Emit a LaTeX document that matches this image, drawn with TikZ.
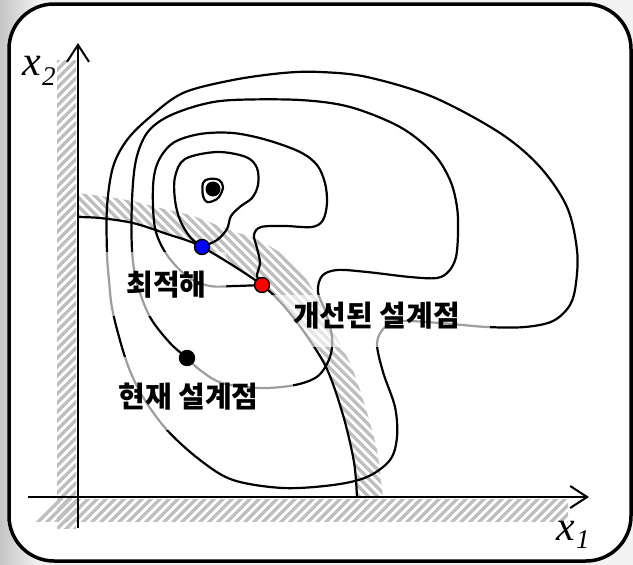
\documentclass[tikz,border=0pt]{standalone}
\usepackage{fontspec}
\IfFontExistsTF{Noto Sans CJK KR Black}
  {\newfontfamily\krfont{Noto Sans CJK KR Black}}
  {\IfFontExistsTF{Noto Sans CJK KR Bold}
    {\newfontfamily\krfont{Noto Sans CJK KR Bold}[FakeBold=1.5]}
    {\newfontfamily\krfont{Noto Sans CJK KR}[FakeBold=5]}}
\newfontfamily\tmsfont{Liberation Serif}
\usetikzlibrary{arrows.meta}
\begin{document}
\begin{tikzpicture}[x=1pt,y=-1pt,
  contour/.style={draw=black, line width=2.2pt, line join=round},
  stripe/.style={draw=gray!50, line width=3.3pt},
  labelbg/.style={fill=white, fill opacity=0.62},
  axisline/.style={draw=black, line width=2pt, -{Straight Barb[length=17pt,width=22pt]}},
  krlabel/.style={font=\krfont\fontsize{29}{29}\selectfont, inner sep=0pt},
  varx/.style={font=\tmsfont\itshape\fontsize{42}{42}\selectfont, inner sep=0pt, anchor=base west},
  varsub/.style={font=\tmsfont\itshape\fontsize{27}{27}\selectfont, inner sep=0pt, anchor=base west},
  ptdot/.style={circle, draw=black, line width=1.4pt, minimum size=15pt, inner sep=0pt}]
\useasboundingbox (0,0) rectangle (633,565);
% background outside the frame
\fill[gray!10] (0,0) rectangle (633,565);
\shade[left color=gray!45, right color=gray!10] (0,0) rectangle (40,565);
% frame
\draw[line width=3.5pt, fill=white, rounded corners=45pt] (9,4) rectangle (631,561);
% hatched bands
\begin{scope}
  \clip (57,60) rectangle (76,528);
  \foreach \i in {-500,-491,...,200} \draw[stripe] (\i,600) -- ++(700,-700);
\end{scope}
\begin{scope}
  \clip (33,499) rectangle (568,521);
  \foreach \i in {0,9,...,650} \draw[stripe] (\i,560) -- ++(100,-100);
\end{scope}
\begin{scope}
  \clip plot[smooth,tension=0.5] coordinates {(78,217) (100,218) (133,223) (167,234) (202,247) (262,285) (293,317) (325,365) (343,415) (354,462) (357,497)}
  -- plot[smooth,tension=0.5] coordinates {(383,497) (381,480) (377,450) (370,423) (360,390) (350,363) (333,330) (313,290) (293,262) (260,241) (227,229) (193,216) (160,208) (127,200) (78,193)} -- cycle;
  \foreach \i in {0,9,...,800} \draw[stripe] (\i,560) -- ++(-400,-400) -- ++(800,-800);
\end{scope}
% contour 5 (outermost)
\draw[contour] plot[smooth cycle,tension=0.55] coordinates {(107,253) (107,207) (113,167) (127,140) (150,117) (183,93) (233,80) (283,73) (320,72) (367,77) (433,97) (500,133) (540,167) (567,207) (577,250) (576,283) (570,305) (553,321) (525,327) (487,327) (440,323) (400,321) (385,327) (377,343) (383,372) (395,407) (397,437) (390,460) (367,477) (333,485) (283,488) (233,480) (200,460) (167,430) (143,397) (127,363) (113,313) (109,280)};
% contour 4 (through current design point)
\draw[contour] plot[smooth cycle,tension=0.55] coordinates {(187,358) (170,343) (150,317) (137,283) (132,250) (132,200) (136,160) (147,133) (167,117) (200,105) (233,100) (300,100) (350,107) (400,127) (433,153) (450,180) (457,207) (458,233) (456,257) (449,271) (437,278) (410,277) (367,272) (337,270) (322,276) (318,292) (326,313) (332,337) (330,357) (318,376) (295,385) (260,388) (222,383) (200,370)};
% contour 3 (through improved point)
\draw[contour] plot[smooth,tension=0.55] coordinates {(262,285) (257,276) (260,263) (257,248) (254,235) (261,227) (285,226) (312,227) (323,220) (327,203) (325,183) (317,165) (300,152) (267,140) (233,133) (200,134) (173,143) (158,162) (153,187) (155,228) (167,255) (188,277) (210,286) (235,286) (262,285)};
% contour 2 (through optimum)
\draw[contour] plot[smooth,tension=0.55] coordinates {(202,247) (217,240) (227,229) (231,216) (241,206) (252,198) (258,185) (257,168) (246,157) (217,152) (185,159) (175,177) (175,200) (180,220) (190,237) (202,247)};
% ring round the minimum
\draw[contour] plot[smooth cycle,tension=0.6] coordinates {(203,183) (209,179) (219,180) (223,187) (219,197) (213,201) (207,202) (203,196)};
\fill[black] (213,189) circle (7.5pt);
% label backgrounds (lines behind appear grey)
\fill[labelbg] (100,252) rectangle (226,316);
\fill[labelbg] (85,357) rectangle (293,430);
% constraint
\draw[contour] plot[smooth,tension=0.5] coordinates {(78,217) (100,218) (133,223) (167,234) (202,247) (262,285) (293,317) (325,365) (343,415) (354,462) (357,497)};
\fill[labelbg] (272,295) rectangle (490,347);
% axes
\coordinate (yfoot) at (78,528);
\coordinate (ytip) at (78,43);
\coordinate (xfoot) at (28,497);
\coordinate (xtip) at (589,497);
\draw[axisline] (yfoot) -- (ytip);
\draw[axisline] (xfoot) -- (xtip);
\node[varx] (xtwo) at (22,75) {x};
\node[varsub] (xtwosub) at (42,85) {2};
\node[varx] (xone) at (556,540) {x};
\node[varsub] (xonesub) at (576,548) {1};
% labels
\node[krlabel] (optlabel) at (166.5,284.5) {최적해};
\node[krlabel] (curlabel) at (188.5,396.5) {현재 설계점};
\node[krlabel] (implabel) at (376.5,316) {개선된 설계점};
% points
\node[ptdot, fill=blue] (optpt) at (202,247) {};
\node[ptdot, fill=red] (imppt) at (262,285) {};
\node[ptdot, fill=black] (curpt) at (187,358) {};
\end{tikzpicture}
\end{document}
